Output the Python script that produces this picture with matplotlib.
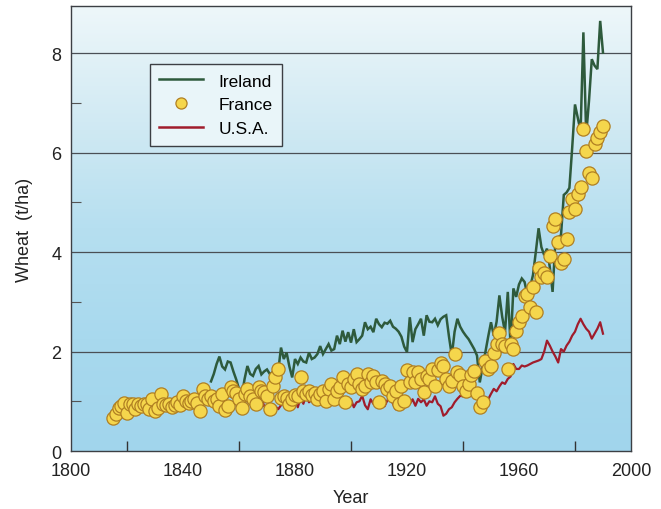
import numpy as np
import matplotlib
matplotlib.use("Agg")
import matplotlib.pyplot as plt
from matplotlib.colors import LinearSegmentedColormap
from matplotlib.lines import Line2D

# ---------------- data (t/ha) ----------------
ireland_start = 1850
ireland = [
    1.40, 1.55, 1.75, 1.90, 1.70, 1.64, 1.80, 1.78, 1.60, 1.44,   # 1850s
    1.25, 1.11, 1.45, 1.71, 1.55, 1.51, 1.65, 1.71, 1.54, 1.60,   # 1860s
    1.64, 1.55, 1.58, 1.71, 1.60, 2.08, 1.85, 1.98, 1.70, 1.48,   # 1870s
    1.85, 1.75, 1.88, 1.80, 1.78, 1.98, 1.85, 1.88, 1.95, 2.11,   # 1880s
    1.95, 2.05, 2.15, 2.02, 2.05, 2.32, 2.15, 2.42, 2.20, 2.39,   # 1890s
    2.18, 2.45, 2.19, 2.25, 2.32, 2.59, 2.45, 2.50, 2.39, 2.66,   # 1900s
    2.55, 2.49, 2.58, 2.56, 2.62, 2.50, 2.46, 2.40, 2.30, 2.10,   # 1910s
    1.99, 2.69, 2.19, 2.45, 2.55, 2.66, 2.32, 2.73, 2.60, 2.59,   # 1920s
    2.66, 2.53, 2.65, 2.70, 2.73, 2.30, 1.92, 2.40, 2.66, 2.50,   # 1930s
    2.40, 2.32, 2.25, 2.15, 2.05, 1.92, 1.38, 1.70, 1.99, 2.30,   # 1940s
    2.59, 2.32, 2.60, 3.13, 2.70, 2.39, 3.20, 2.12, 3.27, 3.10,   # 1950s
    3.35, 3.47, 3.40, 3.13, 3.30, 3.54, 4.00, 4.48, 4.10, 3.94,   # 1960s
    4.07, 3.70, 3.20, 4.21, 4.30, 4.34, 5.15, 5.20, 5.29, 6.10,   # 1970s
    6.97, 6.70, 6.43, 8.42, 6.36, 7.04, 7.88, 7.75, 7.68, 8.65,   # 1980s
    8.01,                                                         # 1990
]

usa_start = 1866
usa = [
    0.97, 1.00, 1.07, 0.90,                                       # 1866-69
    0.87, 0.95, 0.94, 0.90, 0.84, 0.92, 1.01, 0.95, 0.91, 1.00,   # 1870s
    1.04, 0.88, 1.07, 0.95, 1.14, 0.98, 1.04, 0.95, 0.97, 1.10,   # 1880s
    1.24, 1.05, 1.04, 0.95, 1.14, 1.00, 0.97, 1.07, 1.04, 0.91,   # 1890s
    1.04, 0.88, 0.98, 1.00, 1.11, 0.92, 0.84, 1.04, 0.95, 1.00,   # 1900s
    1.04, 0.98, 0.90, 1.02, 1.11, 0.95, 0.84, 0.92, 1.00, 0.88,   # 1910s
    0.98, 0.95, 1.04, 0.91, 1.05, 0.98, 1.04, 0.91, 1.00, 0.98,   # 1920s
    1.10, 0.95, 0.90, 0.71, 0.75, 0.84, 0.88, 0.98, 1.05, 1.11,   # 1930s
    1.10, 1.20, 1.31, 1.15, 1.11, 1.20, 1.14, 1.10, 1.08, 1.04,   # 1940s
    1.15, 1.25, 1.20, 1.30, 1.38, 1.35, 1.45, 1.50, 1.75, 1.65,   # 1950s
    1.65, 1.72, 1.70, 1.72, 1.75, 1.78, 1.80, 1.82, 1.85, 2.00,   # 1960s
    2.22, 2.12, 2.00, 1.90, 1.78, 2.05, 2.00, 2.12, 2.20, 2.32,   # 1970s
    2.40, 2.55, 2.66, 2.55, 2.46, 2.40, 2.26, 2.36, 2.46, 2.59,   # 1980s
    2.36,                                                         # 1990
]

france_start = 1815
france = [
    0.67, 0.75, 0.87, 0.90, 0.97,                                 # 1815-19
    0.77, 0.95, 0.94, 0.85, 0.94, 0.90, 0.95, 0.94, 0.85, 1.04,   # 1820s
    0.80, 0.87, 1.14, 0.95, 0.92, 0.94, 0.88, 0.92, 0.98, 0.93,   # 1830s
    1.11, 1.01, 0.96, 1.00, 1.05, 0.97, 0.81, 1.24, 1.10, 1.05,   # 1840s
    1.11, 1.00, 1.05, 0.91, 1.14, 0.82, 0.90, 1.28, 1.20, 1.17,   # 1850s
    1.05, 0.87, 1.15, 1.24, 1.10, 1.04, 0.95, 1.28, 1.20, 1.18,   # 1860s
    1.11, 0.85, 1.31, 1.48, 1.65, 1.07, 1.10, 1.07, 0.95, 1.04,   # 1870s
    1.12, 1.10, 1.48, 1.20, 1.14, 1.21, 1.12, 1.17, 1.05, 1.15,   # 1880s
    1.21, 1.00, 1.25, 1.34, 1.04, 1.20, 1.28, 1.48, 0.98, 1.34,   # 1890s
    1.28, 1.45, 1.54, 1.35, 1.25, 1.30, 1.55, 1.38, 1.50, 1.38,   # 1900s
    0.98, 1.41, 1.35, 1.25, 1.30, 1.10, 1.20, 0.95, 1.31, 1.01,   # 1910s
    1.62, 1.38, 1.58, 1.38, 1.58, 1.45, 1.18, 1.50, 1.45, 1.65,   # 1920s
    1.30, 1.62, 1.78, 1.70, 1.45, 1.31, 1.40, 1.95, 1.58, 1.52,   # 1930s
    1.31, 1.20, 1.35, 1.52, 1.61, 1.17, 0.88, 0.98, 1.81, 1.65,   # 1940s
    1.71, 1.98, 2.15, 2.38, 2.15, 2.11, 1.65, 2.15, 2.05, 2.41,   # 1950s
    2.59, 2.72, 3.12, 3.15, 2.89, 3.29, 2.79, 3.69, 3.50, 3.59,   # 1960s
    3.49, 3.92, 4.53, 4.66, 4.20, 3.79, 3.86, 4.26, 4.80, 5.06,   # 1970s
    4.86, 5.16, 5.30, 6.47, 6.04, 5.60, 5.50, 6.17, 6.30, 6.41,   # 1980s
    6.54,                                                         # 1990
]

x_major = [1800, 1840, 1880, 1920, 1960, 2000]
x_minor = [1820, 1860, 1900, 1940, 1980]
y_major = [0, 2, 4, 6, 8]
y_minor = [1, 3, 5, 7]

ireland_years = np.arange(ireland_start, ireland_start + len(ireland))
usa_years = np.arange(usa_start, usa_start + len(usa))
france_years = np.arange(france_start, france_start + len(france))

# ---------------- figure ----------------
plt.rcParams['font.family'] = ['Liberation Sans', 'DejaVu Sans']
fig = plt.figure(figsize=(6.61, 5.10), dpi=100)
ax = fig.add_axes([0.1074, 0.1137, 0.8472, 0.8726])

# background gradient (top pale, bottom light blue)
bg = LinearSegmentedColormap.from_list(
    "bg", [(0.0, "#a1d5ec"), (0.25, "#a8d9ee"), (0.5, "#b6dff0"),
           (0.72, "#cfe9f3"), (0.9, "#e3f2f7"), (1.0, "#eef7fa")])
grad = np.linspace(0, 1, 256).reshape(-1, 1)
ax.imshow(grad, aspect='auto', cmap=bg, origin='lower',
          extent=[0, 1, 0, 1], transform=ax.transAxes, zorder=0)

ax.set_xlim(1800, 2000)
ax.set_ylim(0, 8.95)

for yv in y_major[1:]:
    ax.axhline(yv, color='#4a4f55', lw=0.9, zorder=1)

ax.plot(ireland_years, ireland, color='#2e5a3c', lw=1.8, zorder=3,
        solid_joinstyle='miter')
ax.plot(usa_years, usa, color='#a01c2c', lw=1.6, zorder=2)
ax.plot(france_years, france, linestyle='none', marker='o', ms=9.5,
        mfc='#f5d64c', mec='#b07f22', mew=0.9, zorder=4)

# ticks
ax.set_xticks(x_major)
ax.set_xticks(x_minor, minor=True)
ax.set_yticks(y_major)
ax.set_yticks(y_minor, minor=True)
ax.tick_params(axis='x', which='major', length=0, pad=8, labelsize=13,
               labelcolor='#222222')
ax.tick_params(axis='x', which='minor', direction='in', length=7,
               width=1.0, color='#333333')
ax.tick_params(axis='y', which='major', length=0, pad=7, labelsize=13,
               labelcolor='#222222')
ax.tick_params(axis='y', which='minor', direction='in', length=7,
               width=0.8, color='#555555')
for s in ax.spines.values():
    s.set_color('#3c3f44')
    s.set_linewidth(1.0)
    s.set_zorder(5)

ax.set_xlabel('Year', fontsize=13, color='#222222', labelpad=7)
ax.set_ylabel('Wheat  (t/ha)', fontsize=13, color='#222222', labelpad=13)

handles = [
    Line2D([], [], color='#2e5a3c', lw=1.8),
    Line2D([], [], linestyle='none', marker='o', ms=8,
           mfc='#f5d64c', mec='#b07f22', mew=0.9),
    Line2D([], [], color='#a01c2c', lw=1.8),
]
leg = ax.legend(handles, ['Ireland', 'France', 'U.S.A.'],
                loc='upper left', bbox_to_anchor=(0.141, 0.870),
                fontsize=12.5, frameon=True, fancybox=False,
                handlelength=2.5, handletextpad=0.9, labelspacing=0.5,
                borderpad=0.55, borderaxespad=0.0)
leg.get_frame().set_edgecolor('#3c3f44')
leg.get_frame().set_facecolor('#e9f5f9')
leg.get_frame().set_linewidth(1.0)
leg.get_frame().set_alpha(1.0)
leg.set_zorder(6)

fig.savefig('out.png', dpi=100)
